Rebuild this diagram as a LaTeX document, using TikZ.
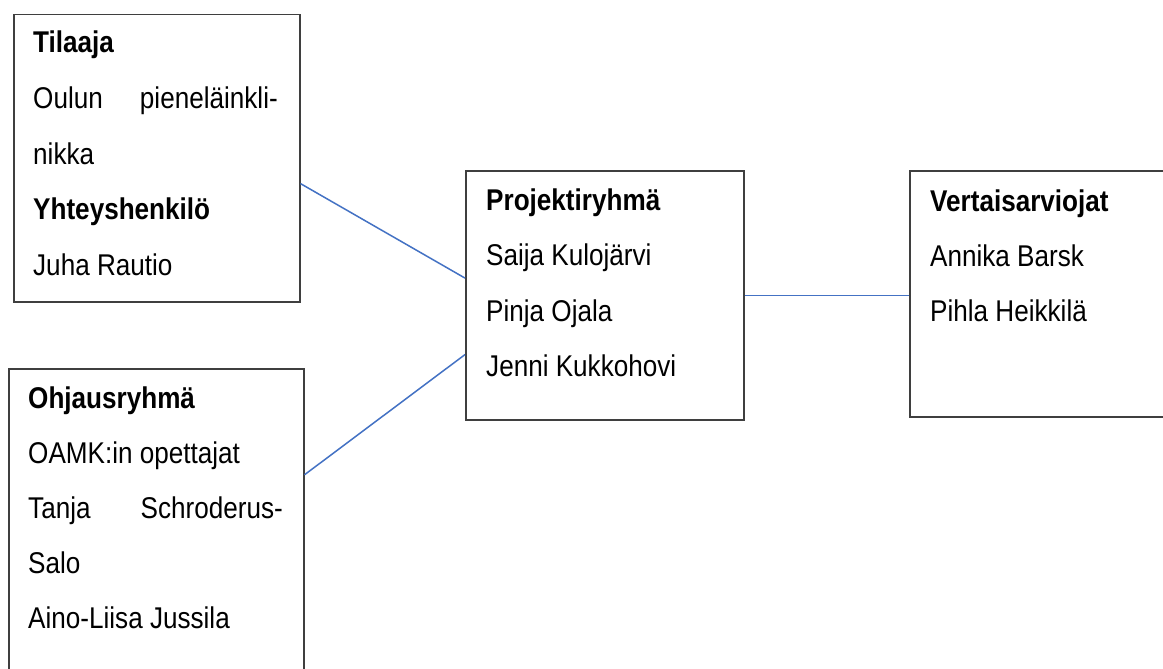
\documentclass[tikz,border=0pt]{standalone}
\usepackage{fontspec}
\setmainfont{Liberation Sans}[FakeStretch=0.87]
\usetikzlibrary{calc}
\definecolor{boxgray}{HTML}{3F3F3F}
\definecolor{linkblue}{HTML}{4472C4}
\begin{document}
\begin{tikzpicture}[x=1pt,y=-1pt,
  box/.style={draw=boxgray, line width=1.5pt, rectangle, inner sep=0pt, anchor=north west},
  conn/.style={draw=linkblue, line width=1.5pt},
  txt/.style={anchor=base west, inner sep=0pt, font=\fontsize{30}{36}\selectfont},
  txtr/.style={anchor=base east, inner sep=0pt, font=\fontsize{30}{36}\selectfont},
  head/.style={anchor=base west, inner sep=0pt, font=\fontsize{30}{36}\selectfont\bfseries}]
\useasboundingbox (0,0) rectangle (1163,669);
\fill[white] (0,0) rectangle (1163,669);
% boxes
\node[box, minimum width=286pt, minimum height=287pt] (b1) at (13,14) {};
\node[box, minimum width=295pt, minimum height=320pt] (b2) at (8,368) {};
\node[box, minimum width=278pt, minimum height=249pt] (b3) at (465,170) {};
\node[box, minimum width=270pt, minimum height=246pt] (b4) at (909,170) {};
% box 1 text
\node[head] (t1a) at (33,53) {Tilaaja};
\node[txt]  (t1b) at (33,108.5) {Oulun};
\node[txtr] (t1c) at (278,108.5) {pieneläinkli-};
\node[txt]  (t1d) at (33,164) {nikka};
\node[head] (t1e) at (33,219.5) {Yhteyshenkilö};
\node[txt]  (t1f) at (33,275) {Juha Rautio};
% box 2 text
\node[head] (t2a) at (28,408) {Ohjausryhmä};
\node[txt]  (t2b) at (28,463) {OAMK:in opettajat};
\node[txt]  (t2c) at (28,518) {Tanja};
\node[txtr] (t2d) at (283,518) {Schroderus-};
\node[txt]  (t2e) at (28,573) {Salo};
\node[txt]  (t2f) at (28,628) {Aino-Liisa Jussila};
% box 3 text
\node[head] (t3a) at (486,210) {Projektiryhmä};
\node[txt]  (t3b) at (486,265) {Saija Kulojärvi};
\node[txt]  (t3c) at (486,321) {Pinja Ojala};
\node[txt]  (t3d) at (486,376) {Jenni Kukkohovi};
% box 4 text
\node[head] (t4a) at (930,211) {Vertaisarviojat};
\node[txt]  (t4b) at (930,266) {Annika Barsk};
\node[txt]  (t4c) at (930,321) {Pihla Heikkilä};
% connectors
\draw[conn] (b1.-10) -- (b3.173.6);
\draw[conn] (b2.20) -- (b3.203.2);
\draw[conn] (b3.east) -- (b3.east -| b4.west);
\end{tikzpicture}
\end{document}
